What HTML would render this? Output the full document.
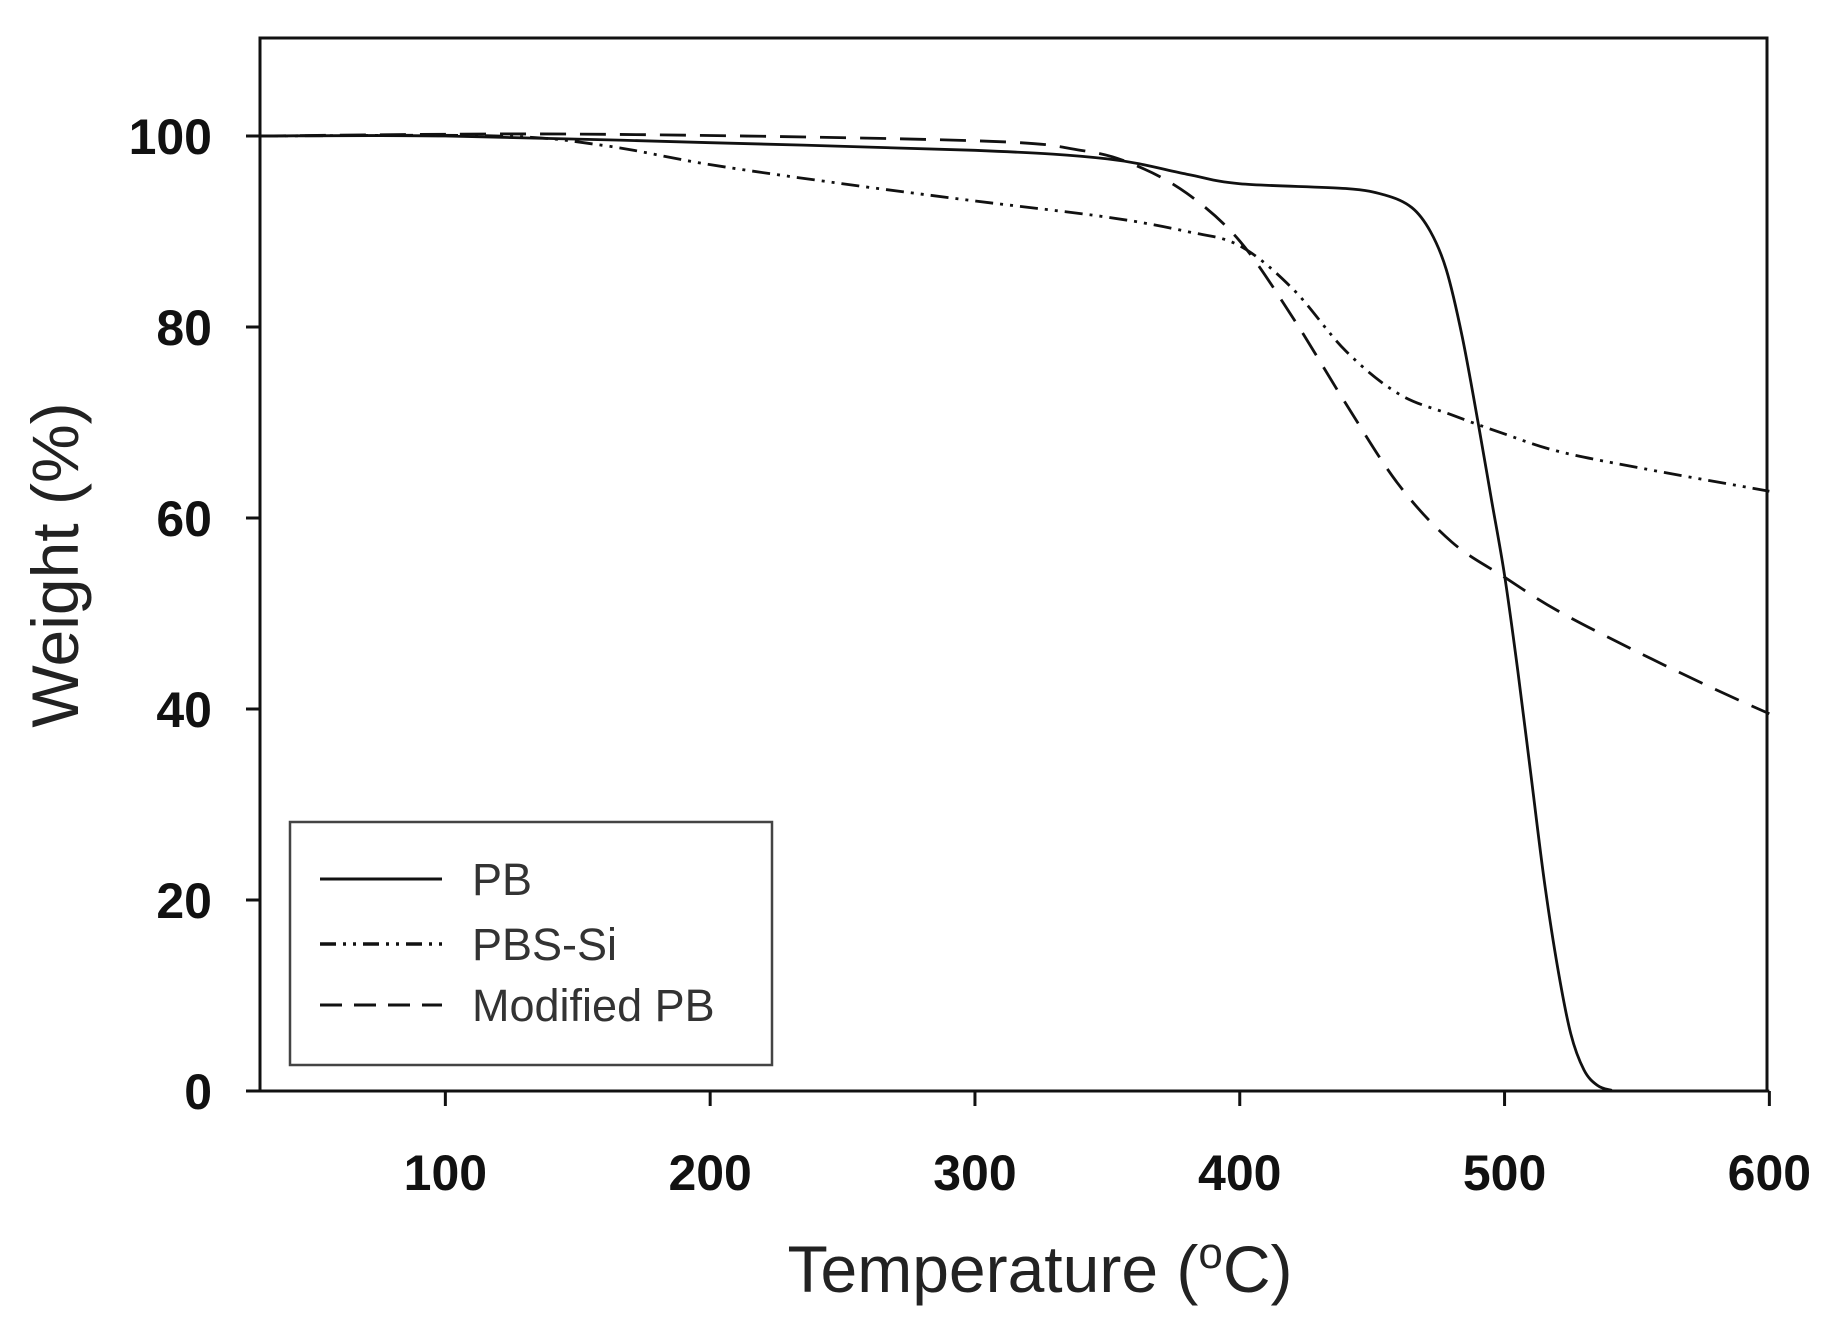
<!DOCTYPE html>
<html><head><meta charset="utf-8"><style>
html,body{margin:0;padding:0;background:#fff;}
svg{display:block;}
</style></head><body>
<svg id="s" width="1836" height="1321" viewBox="0 0 1836 1321" xmlns="http://www.w3.org/2000/svg" font-family="Liberation Sans, Arial, sans-serif">
<rect width="1836" height="1321" fill="#fff"/>
<g id="curves" fill="none" stroke="#111" stroke-width="2.8"></g>
<rect x="260" y="38" width="1507" height="1053" fill="none" stroke="#111" stroke-width="3"/>
<g stroke="#111" stroke-width="3" id="ticks"></g>
<g font-size="50" font-weight="bold" fill="#111" text-anchor="end" id="ylab"></g>
<g font-size="50" font-weight="bold" fill="#111" text-anchor="middle" id="xlab"></g>
<text x="1040" y="1292" font-size="66" text-anchor="middle" fill="#222">Temperature (<tspan font-size="44" dy="-24">o</tspan><tspan dy="24">C)</tspan></text>
<text transform="translate(78,565) rotate(-90)" font-size="66" text-anchor="middle" fill="#222">Weight (%)</text>
<rect x="290" y="822" width="482" height="243" fill="#fff" stroke="#444" stroke-width="2.5"/>
<line x1="320" y1="879" x2="442" y2="879" stroke="#111" stroke-width="3"/>
<line x1="320" y1="944" x2="442" y2="944" stroke="#111" stroke-width="3.5" stroke-dasharray="16,7,3,7,3,7"/>
<line x1="320" y1="1005" x2="442" y2="1005" stroke="#111" stroke-width="3" stroke-dasharray="22,12"/>
<g font-size="45" fill="#333">
<text x="472" y="895">PB</text>
<text x="472" y="960">PBS-Si</text>
<text x="472" y="1021">Modified PB</text>
</g>
</svg>
<script>
const X=t=>260+(t-30)*2.648, Y=w=>1091-w*9.55;
const ns="http://www.w3.org/2000/svg";
function path(d){let p=d.map(a=>[X(a[0]),Y(a[1])]);let s="M"+p[0][0]+","+p[0][1];
for(let i=0;i<p.length-1;i++){const p0=p[Math.max(0,i-1)],p1=p[i],p2=p[i+1],p3=p[Math.min(p.length-1,i+2)];
const c1=[p1[0]+(p2[0]-p0[0])/6,p1[1]+(p2[1]-p0[1])/6],c2=[p2[0]-(p3[0]-p1[0])/6,p2[1]-(p3[1]-p1[1])/6];
s+=` C${c1[0]},${c1[1]} ${c2[0]},${c2[1]} ${p2[0]},${p2[1]}`;}return s;}
const pb=[[30,100],[100,100],[200,99.3],[300,98.5],[350,97.6],[380,96],[400,95],[440,94.5],[455,93.8],[465,92.5],[472,90],[478,86],[484,79],[490,70],[495,62],[500,54],[505,44],[510,33],[515,22],[520,13],[525,6],[530,2.2],[535,0.6],[540,0.1],[545,0],[600,0]];
const si=[[30,100],[120,100],[160,99],[200,97],[250,95],[300,93.2],[350,91.5],[380,90],[400,88.5],[420,84],[440,77.5],[460,73],[480,70.8],[500,68.8],[520,67],[550,65.3],[600,62.8]];
const mo=[[30,100],[150,100.2],[300,99.5],[340,98.5],[360,97],[380,94],[400,89],[420,81],[440,72],[460,63.5],[480,57.5],[500,53.8],[520,50.3],[550,46],[580,42],[600,39.5]];
const g=document.getElementById("curves");
[[pb,""],[si,"18,7,3,7,3,7"],[mo,"26,14"]].forEach(([d,da])=>{const e=document.createElementNS(ns,"path");e.setAttribute("d",path(d));if(da)e.setAttribute("stroke-dasharray",da);g.appendChild(e);});
const tk=document.getElementById("ticks"),yl=document.getElementById("ylab"),xl=document.getElementById("xlab");
for(let w=0;w<=100;w+=20){const l=document.createElementNS(ns,"line");l.setAttribute("x1",246);l.setAttribute("x2",260);l.setAttribute("y1",Y(w));l.setAttribute("y2",Y(w));tk.appendChild(l);
const t=document.createElementNS(ns,"text");t.setAttribute("x",212);t.setAttribute("y",Y(w)+18);t.textContent=w;yl.appendChild(t);}
for(let x=100;x<=600;x+=100){const l=document.createElementNS(ns,"line");l.setAttribute("x1",X(x));l.setAttribute("x2",X(x));l.setAttribute("y1",1091);l.setAttribute("y2",1106);tk.appendChild(l);
const t=document.createElementNS(ns,"text");t.setAttribute("x",X(x));t.setAttribute("y",1190);t.textContent=x;xl.appendChild(t);}
</script>
</body></html>
